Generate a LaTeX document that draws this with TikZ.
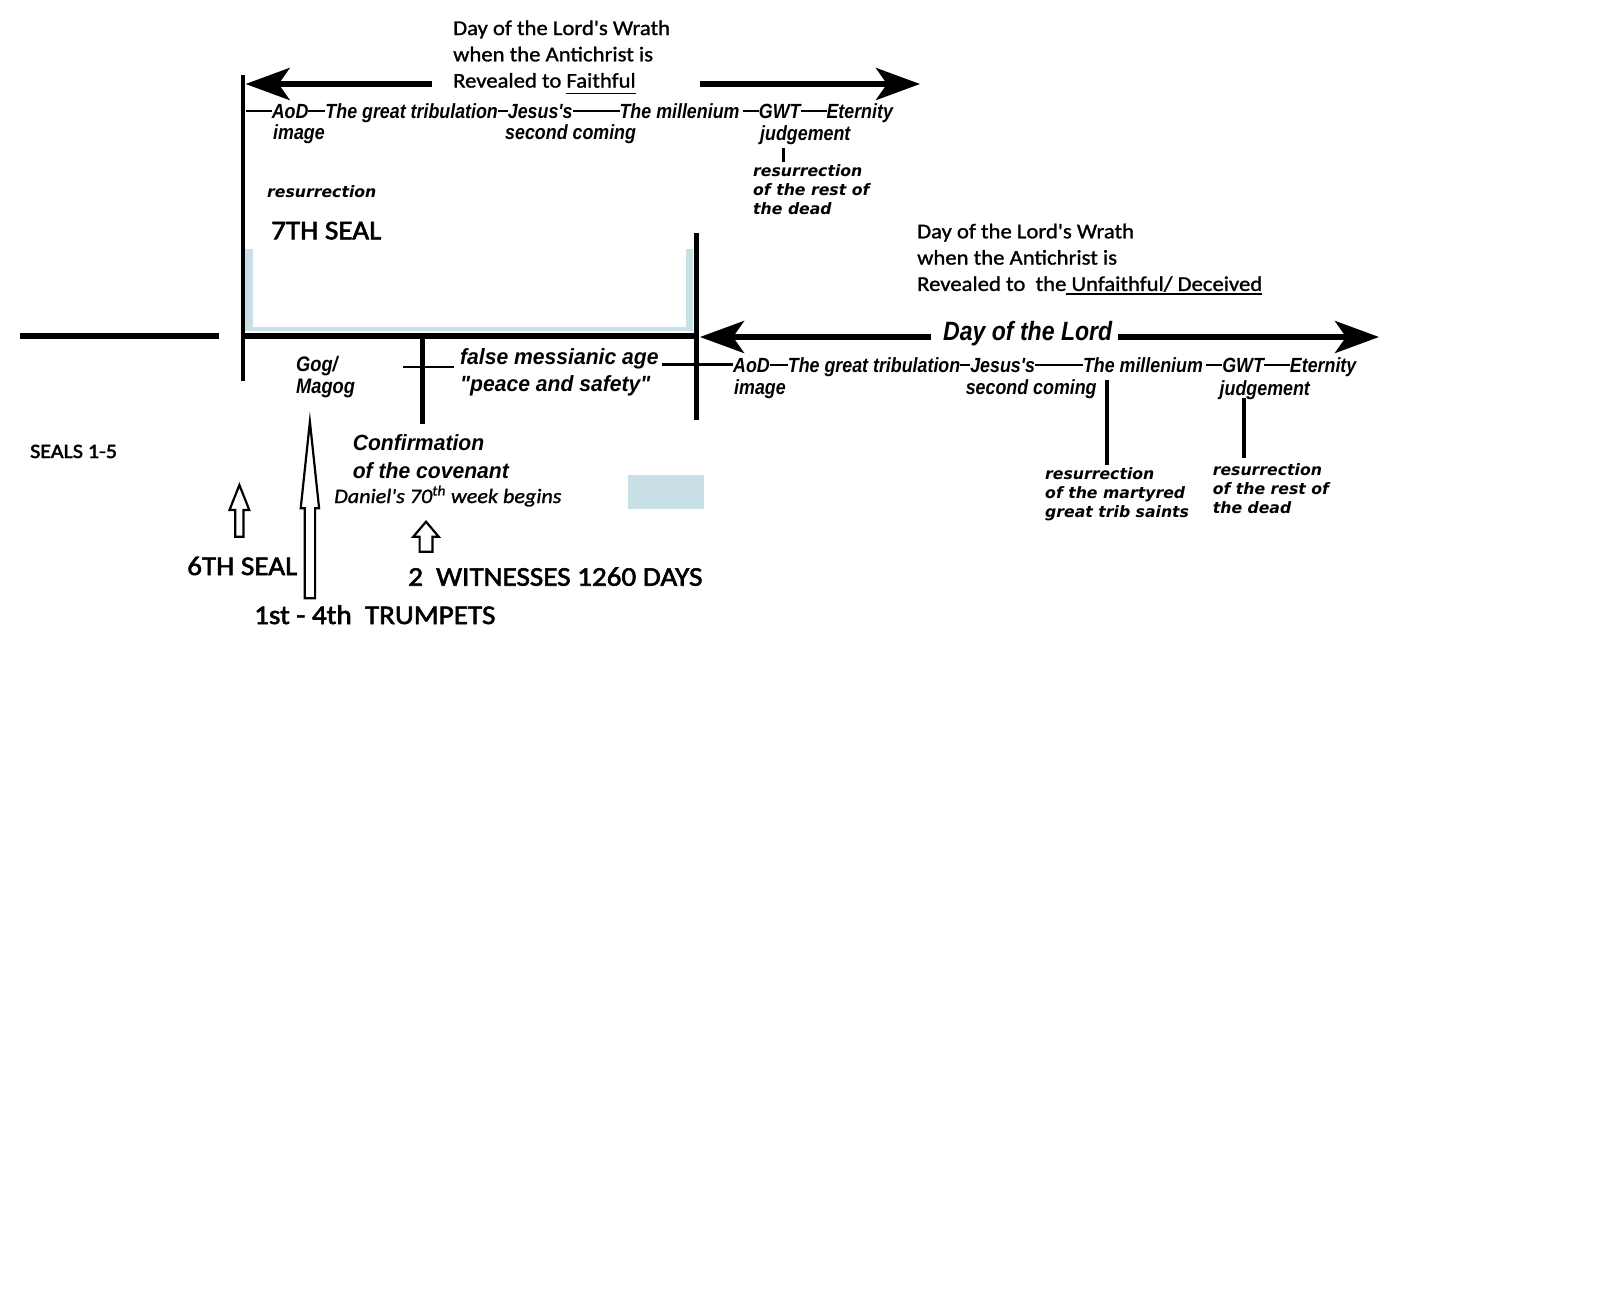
\documentclass[tikz,border=0pt]{standalone}
\usepackage{fontspec}
\setmainfont{Carlito}[FakeStretch=1.08]
\newfontfamily\hdrfont{Carlito}[FakeStretch=1.08,FakeBold=1.2]
\newfontfamily\capfont{Carlito}[FakeStretch=1.08,FakeBold=2.2]
\newfontfamily\cndfont{Liberation Sans}[FakeStretch=0.87]
\newfontfamily\medfont{Liberation Sans}[FakeStretch=0.96]
\newfontfamily\verfont{DejaVu Sans}
\usetikzlibrary{arrows.meta}
\definecolor{lblue}{RGB}{200,224,230}
\newcommand\dashr[1]{\rule[6pt]{#1pt}{2pt}}
\newcommand\myul[2]{\setbox0\hbox{#2}\rlap{\rule[-#1pt]{\wd0}{1.6pt}}\box0}
\newcommand\blkarrow[6]{\draw[blk] ({#1-#6},#4) -- ({#1-#6},#3) -- ({#1-#5},#3) -- (#1,#2) -- ({#1+#5},#3) -- ({#1+#6},#3) -- ({#1+#6},#4) -- cycle;}
\tikzset{
  hdr/.style={font=\hdrfont\fontsize{21}{26.3}\selectfont, anchor=base west, inner sep=0pt},
  bigcap/.style={font=\capfont\fontsize{27}{32}\selectfont, anchor=base west, inner sep=0pt},
  smallcap/.style={font=\capfont\fontsize{20.4}{24}\selectfont, anchor=base west, inner sep=0pt},
  rowtxt/.style={font=\cndfont\bfseries\itshape\fontsize{20.5}{23}\selectfont, anchor=base west, inner sep=0pt},
  gogtxt/.style={font=\cndfont\bfseries\itshape\fontsize{21}{21.6}\selectfont, anchor=base west, inner sep=0pt},
  midtxt/.style={font=\medfont\bfseries\itshape\fontsize{22}{27.7}\selectfont, anchor=base west, inner sep=0pt},
  dantxt/.style={font=\hdrfont\itshape\fontsize{20.5}{24}\selectfont, anchor=base west, inner sep=0pt},
  dltxt/.style={font=\cndfont\bfseries\itshape\fontsize{26.5}{30}\selectfont, anchor=base west, inner sep=0pt},
  vertxt/.style={font=\verfont\bfseries\itshape\fontsize{15.7}{19.1}\selectfont, anchor=base west, inner sep=0pt},
  bigtip/.tip={Stealth[length=44pt,width=32pt,inset=11pt]},
  arrline/.style={line width=5.5pt},
  mainline/.style={line width=5.5pt},
  vline/.style={line width=4.5pt},
  thinline/.style={line width=2.5pt},
  blk/.style={line width=2.2pt, draw=black, fill=white, line join=miter},
}
\begin{document}
\begin{tikzpicture}[x=1pt,y=-1pt]
\useasboundingbox (0,0) rectangle (1600,1291);
\fill[white] (0,0) rectangle (1600,1291);

% light blue marks
\fill[lblue] (245,249) rectangle (252.7,331);
\fill[lblue] (245,327) rectangle (693.3,331);
\fill[lblue] (685.7,249) rectangle (693.3,331);
\fill[lblue] (627.7,475) rectangle (704,509);

% named coordinates
\coordinate (segL1) at (20,336);
\coordinate (segL2) at (219,336);
\coordinate (mainA) at (243,336);
\coordinate (mainB) at (696,336);
\coordinate (vA1) at (243,75);
\coordinate (vA2) at (243,381);
\coordinate (vB1) at (696,233);
\coordinate (vB2) at (696,420);
\coordinate (vC1) at (422,336);
\coordinate (vC2) at (422,424);
\coordinate (tkC1) at (403,367);
\coordinate (tkC2) at (454,367);
\coordinate (ageL1) at (662,364.5);
\coordinate (ageL2) at (733,364.5);
\coordinate (topL1) at (432,84);
\coordinate (topTipL) at (245.6,84);
\coordinate (topR1) at (700,84);
\coordinate (topTipR) at (920,84);
\coordinate (dolL1) at (931,337);
\coordinate (dolTipL) at (700,337);
\coordinate (dolR1) at (1118,337);
\coordinate (dolTipR) at (1379,337);
\coordinate (tkJ1) at (783.6,148);
\coordinate (tkJ2) at (783.6,162);
\coordinate (tkM1) at (1107,380);
\coordinate (tkM2) at (1107,465);
\coordinate (tkG1) at (1244,398);
\coordinate (tkG2) at (1244,458);

% black lines
\draw[mainline] (segL1) -- (segL2);
\draw[mainline] (mainA) -- (mainB);
\draw[vline] (vA1) -- (vA2);
\draw[line width=5pt] (vB1) -- (vB2);
\draw[line width=5pt] (vC1) -- (vC2);
\draw[thinline] (tkC1) -- (tkC2);
\draw[thinline] (ageL1) -- (ageL2);
\draw[line width=3.5pt] (tkJ1) -- (tkJ2);
\draw[line width=4pt] (tkM1) -- (tkM2);
\draw[line width=4pt] (tkG1) -- (tkG2);

% arrows
\draw[arrline,-bigtip] (topL1) -- (topTipL);
\draw[arrline,-bigtip] (topR1) -- (topTipR);
\draw[arrline,-bigtip] (dolL1) -- (dolTipL);
\draw[arrline,-bigtip] (dolR1) -- (dolTipR);

% block arrows
\blkarrow{239.4}{485}{510}{536.7}{9.9}{4.1}
\blkarrow{309.9}{421.7}{508.3}{598.3}{9.2}{5.2}
\blkarrow{426}{521.7}{536.7}{551.7}{12.7}{6.4}

% headers
\node[hdr] (wrathA) at (453,35) {\begin{tabular}[t]{@{}l@{}}Day of the Lord's Wrath\\when the Antichrist is\\Revealed to \myul{6.7}{Faithful}\end{tabular}};
\node[hdr] (wrathB) at (917,238.3) {\begin{tabular}[t]{@{}l@{}}Day of the Lord's Wrath\\when the Antichrist is\\Revealed to\ \ the\myul{4}{\ Unfaithful/ Deceived}\end{tabular}};

% top timeline row
\node[rowtxt] (rowA) at (245.6,118.3) {\dashr{26}AoD\dashr{17}The great tribulation\dashr{10}Jesus's\dashr{47}The millenium\,\dashr{16}GWT\dashr{26}Eternity};
\node[rowtxt] (imgA) at (273,139.5) {image};
\node[rowtxt] (scA) at (505,139.5) {second coming};
\node[rowtxt] (jdA) at (760,140.5) {judgement};

% bottom timeline row
\node[rowtxt] (rowB) at (733,372) {AoD\dashr{18}The great tribulation\dashr{10}Jesus's\dashr{48}The millenium\,\dashr{16}GWT\dashr{26}Eternity};
\node[rowtxt] (imgB) at (734,394) {image};
\node[rowtxt] (scB) at (965.6,394) {second coming};
\node[rowtxt] (jdB) at (1219.5,395) {judgement};

% Day of the Lord
\node[dltxt] (dol) at (943,340) {Day of the Lord};

% resurrection labels
\node[vertxt] (resA) at (267,197.3) {resurrection};
\node[vertxt] (resB) at (753,176.7) {\begin{tabular}[t]{@{}l@{}}resurrection\\of the rest of\\the dead\end{tabular}};
\node[vertxt] (resC) at (1045,479.3) {\begin{tabular}[t]{@{}l@{}}resurrection\\of the martyred\\great trib saints\end{tabular}};
\node[vertxt] (resD) at (1212.6,475) {\begin{tabular}[t]{@{}l@{}}resurrection\\of the rest of\\the dead\end{tabular}};

% captions
\node[bigcap] (seal7) at (271,239.3) {7TH SEAL};
\node[bigcap] (seal6) at (187,575) {6TH SEAL};
\node[bigcap] (wit) at (408,585.7) {2\ \ WITNESSES 1260 DAYS};
\node[bigcap] (trump) at (254,624) {1st - 4th\ \ TRUMPETS};
\node[smallcap] (seals) at (30,458) {SEALS 1-5};

% middle labels
\node[gogtxt] (gog) at (296,371.7) {\begin{tabular}[t]{@{}l@{}}Gog/\\Magog\end{tabular}};
\node[midtxt] (fma) at (460,364) {\begin{tabular}[t]{@{}l@{}}false messianic age\\"peace and safety"\end{tabular}};
\node[midtxt,font=\medfont\bfseries\itshape\fontsize{22}{28.3}\selectfont] (conf) at (352.6,450) {\begin{tabular}[t]{@{}l@{}}Confirmation\\of the covenant\end{tabular}};
\node[dantxt] (dan) at (334,503) {Daniel's 70\textsuperscript{th} week begins};
\end{tikzpicture}
\end{document}
